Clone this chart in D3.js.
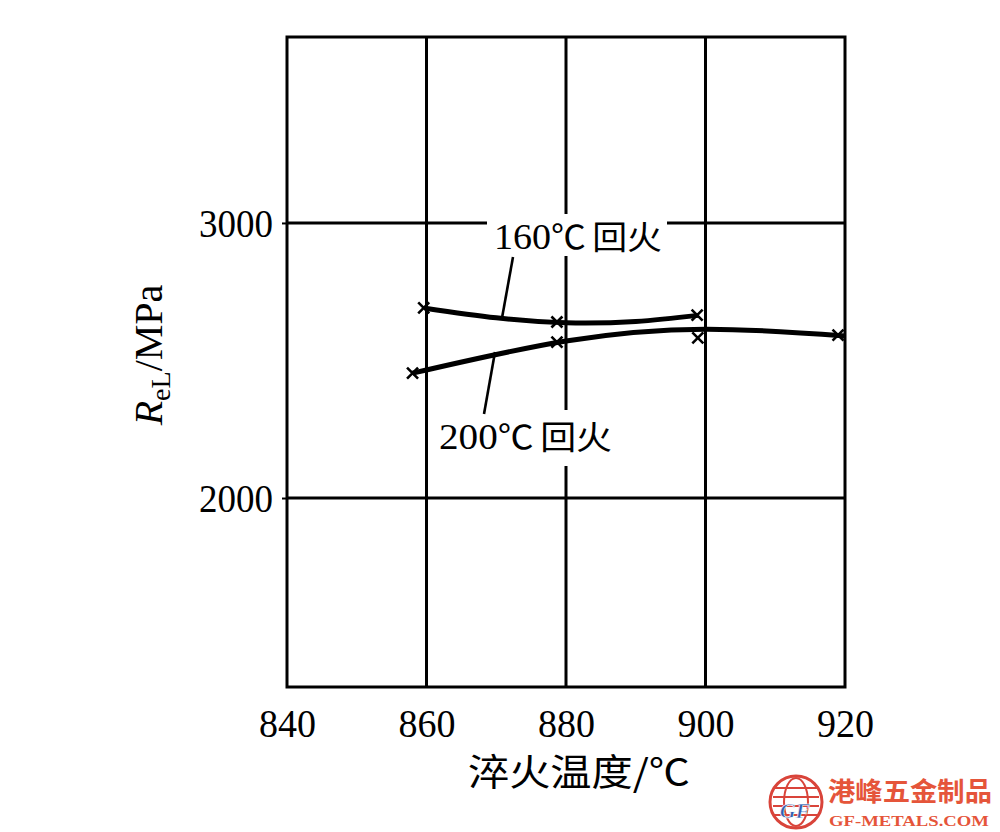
<!DOCTYPE html>
<html><head><meta charset="utf-8">
<script src="https://cdn.jsdelivr.net/npm/d3@7"></script>
<style>body{margin:0;background:#fff}svg{display:block}</style>
</head><body>
<svg id="c" width="1000" height="832"></svg>
<script>
// ---- data ----
const xTicks = [840, 860, 880, 900, 920];
const yTicks = [2000, 3000];
// measured points (markers)
const pts160 = [[859.6, 2691], [878.7, 2640], [898.8, 2665]];
const pts200 = [[858, 2454], [878.7, 2567], [898.9, 2582], [919, 2592]];
// fitted curves
const fit160 = [[859.8, 2690], [870, 2655], [880, 2637], [890, 2642], [899, 2664]];
const fit200 = [[858, 2454], [880, 2571], [900, 2614], [920, 2589]];
const label160 = "160℃回火";
const label200 = "200℃回火";
const xTitle = "淬火温度/℃";

const svg = d3.select("#c");
const x = d3.scaleLinear().domain([840, 920]).range([287, 845]);
const y = d3.scaleLinear().domain([1313, 3676]).range([687, 37]);
const serif = "'Liberation Serif','DejaVu Serif',serif";
const cjk = "'Noto Sans CJK SC','Noto Sans CJK JP',sans-serif";

// gridlines
const g = svg.append("g").attr("stroke", "#000").attr("stroke-width", 3);
xTicks.slice(1, -1).forEach(v => g.append("line").attr("x1", x(v)).attr("x2", x(v)).attr("y1", y(3676)).attr("y2", y(1313)));
yTicks.forEach(v => g.append("line").attr("x1", x(840)).attr("x2", x(920)).attr("y1", y(v)).attr("y2", y(v)));
// frame
svg.append("rect").attr("x", x(840)).attr("y", y(3676)).attr("width", x(920) - x(840)).attr("height", y(1313) - y(3676))
  .attr("fill", "none").attr("stroke", "#000").attr("stroke-width", 3);

// axes
const xa = svg.append("g").attr("transform", `translate(0,${y(1313)})`)
  .call(d3.axisBottom(x).tickValues(xTicks).tickSize(0).tickPadding(0).tickFormat(d3.format("d")));
xa.select(".domain").remove();
xa.selectAll("text").attr("font-family", serif).attr("font-size", 40).attr("fill", "#000")
  .attr("y", 50).attr("dy", 0).attr("textLength", 57).attr("lengthAdjust", "spacingAndGlyphs");

const ya = svg.append("g").attr("transform", `translate(${x(840)},0)`)
  .call(d3.axisLeft(y).tickValues(yTicks).tickSize(5).tickPadding(9).tickFormat(d3.format("d")));
ya.select(".domain").remove();
ya.selectAll("line").attr("stroke-width", 2);
ya.selectAll("text").attr("font-family", serif).attr("font-size", 40).attr("fill", "#000")
  .attr("dy", "0.33em").attr("textLength", 74).attr("lengthAdjust", "spacingAndGlyphs");

// curves
const line = d3.line().x(d => x(d[0])).y(d => y(d[1])).curve(d3.curveNatural);
svg.append("path").attr("d", line(fit160)).attr("fill", "none").attr("stroke", "#000").attr("stroke-width", 5);
svg.append("path").attr("d", line(fit200)).attr("fill", "none").attr("stroke", "#000").attr("stroke-width", 5);

// markers
const mk = (pts) => pts.forEach(p => {
  const cx = x(p[0]), cy = y(p[1]), r = 5.5;
  svg.append("path").attr("d", `M${cx - r},${cy - r}L${cx + r},${cy + r}M${cx - r},${cy + r}L${cx + r},${cy - r}`)
    .attr("stroke", "#000").attr("stroke-width", 2.6).attr("fill", "none");
});
mk(pts160); mk(pts200);

// labels with white backgrounds
function lab(text, x0, y0, w, bg) {
  svg.append("rect").attr("x", bg[0]).attr("y", bg[1]).attr("width", bg[2]).attr("height", bg[3]).attr("fill", "#fff");
  const t = svg.append("text").attr("x", x0).attr("y", y0).attr("font-size", 36).attr("fill", "#000")
    .attr("textLength", w).attr("lengthAdjust", "spacingAndGlyphs");
  t.append("tspan").attr("font-family", serif).text(text.slice(0, 3));
  t.append("tspan").attr("font-family", cjk).attr("font-size", 33).text(text.slice(3, 4));
  t.append("tspan").attr("font-family", cjk).attr("font-size", 33).attr("dx", 6).text(text.slice(4));
}
lab(label160, 494, 249, 168, [487, 214, 180, 42]);
lab(label200, 439, 449, 173, [434, 410, 184, 56]);

// leader lines
svg.append("line").attr("x1", 513).attr("y1", 257).attr("x2", 502).attr("y2", 318).attr("stroke", "#000").attr("stroke-width", 2.6);
svg.append("line").attr("x1", 495).attr("y1", 352).attr("x2", 484).attr("y2", 414).attr("stroke", "#000").attr("stroke-width", 2.6);

// axis titles
svg.append("text").attr("x", 579).attr("y", 786).attr("text-anchor", "middle").attr("font-family", cjk)
  .attr("font-size", 37).attr("fill", "#000").attr("textLength", 222).attr("lengthAdjust", "spacingAndGlyphs").text(xTitle);

const yt = svg.append("text").attr("transform", "translate(162,355) rotate(-90)").attr("text-anchor", "middle")
  .attr("font-family", serif).attr("font-size", 40).attr("fill", "#000");
yt.append("tspan").attr("font-style", "italic").text("R");
yt.append("tspan").attr("font-size", 28).attr("dy", 8).text("eL");
yt.append("tspan").attr("dy", -8).text("/MPa");

// watermark
const wm = svg.append("g");
wm.append("circle").attr("cx", 796).attr("cy", 802).attr("r", 26).attr("fill", "#fff").attr("stroke", "#d9443a").attr("stroke-width", 3);
wm.append("ellipse").attr("cx", 796).attr("cy", 802).attr("rx", 12).attr("ry", 24).attr("fill", "none").attr("stroke", "#d9443a").attr("stroke-width", 2);
[-14, -5, 4, 13].forEach(o => wm.append("line").attr("x1", 773).attr("x2", 819).attr("y1", 802 + o).attr("y2", 802 + o).attr("stroke", "#d9443a").attr("stroke-width", 2));
wm.append("text").attr("x", 795).attr("y", 818).attr("text-anchor", "middle").attr("font-family", serif).attr("font-style", "italic")
  .attr("font-weight", "bold").attr("font-size", 22).attr("fill", "#2f5fb3").attr("stroke", "#fff").attr("stroke-width", 0.6).text("GF");
wm.append("text").attr("x", 828).attr("y", 801).attr("font-family", cjk).attr("font-weight", "bold").attr("font-size", 26)
  .attr("fill", "#e5553a").attr("textLength", 164).attr("lengthAdjust", "spacingAndGlyphs").text("港峰五金制品");
wm.append("text").attr("x", 829).attr("y", 826).attr("font-family", serif).attr("font-weight", "bold").attr("font-size", 14)
  .attr("fill", "#e5553a").attr("textLength", 160).attr("lengthAdjust", "spacingAndGlyphs").text("GF-METALS.COM");
</script>
</body></html>
